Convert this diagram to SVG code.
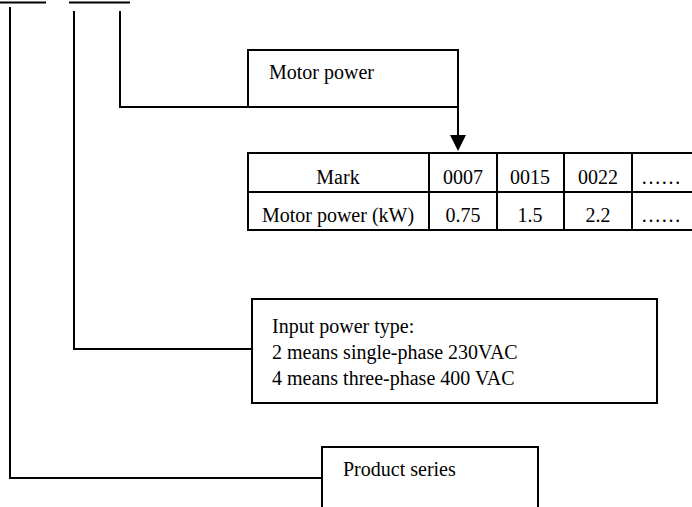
<svg xmlns="http://www.w3.org/2000/svg" width="692" height="507" viewBox="0 0 692 507">
<style>
.ln{stroke:#000;stroke-width:2;fill:none}
.bx{stroke:#000;stroke-width:2;fill:#fff}
text{font-family:"Liberation Serif","Times New Roman",serif;font-size:20px;fill:#000}
.c{text-anchor:middle}
</style>
<rect width="692" height="507" fill="#fff"/>
<g id="connectors">
<line class="ln" x1="0" y1="2.5" x2="46" y2="2.5"/>
<line class="ln" x1="69" y1="2.5" x2="130" y2="2.5"/>
<polyline class="ln" points="10,7 10,478 322,478"/>
<polyline class="ln" points="74,11 74,349 252,349"/>
<polyline class="ln" points="120,11 120,107 248,107"/>
<line class="ln" x1="458" y1="107" x2="458" y2="137"/>
<polygon points="450,135 466,135 458,151" fill="#000"/>
</g>
<g id="motor-power">
<rect class="bx" x="248" y="50" width="210" height="57"/>
<text x="269" y="79">Motor power</text>
</g>
<g id="table">
<line class="ln" x1="248" y1="153" x2="692" y2="153"/>
<line class="ln" x1="248" y1="192" x2="692" y2="192"/>
<line class="ln" x1="248" y1="230" x2="692" y2="230"/>
<line class="ln" x1="248" y1="152" x2="248" y2="231"/>
<line class="ln" x1="429" y1="152" x2="429" y2="231"/>
<line class="ln" x1="497" y1="152" x2="497" y2="231"/>
<line class="ln" x1="564" y1="152" x2="564" y2="231"/>
<line class="ln" x1="632" y1="152" x2="632" y2="231"/>
<text class="c" x="338" y="184">Mark</text>
<text class="c" x="463" y="184">0007</text>
<text class="c" x="530" y="184">0015</text>
<text class="c" x="598" y="184">0022</text>
<text class="c" x="661" y="184">……</text>
<text class="c" x="338" y="222">Motor power (kW)</text>
<text class="c" x="463" y="222">0.75</text>
<text class="c" x="530" y="222">1.5</text>
<text class="c" x="598" y="222">2.2</text>
<text class="c" x="661" y="222">……</text>
</g>
<g id="input-power">
<rect class="bx" x="252" y="299" width="405" height="104"/>
<text x="272" y="333">Input power type:</text>
<text x="272" y="359">2 means single-phase 230VAC</text>
<text x="272" y="385">4 means three-phase 400 VAC</text>
</g>
<g id="product-series">
<rect class="bx" x="322" y="447" width="216" height="80"/>
<text x="343" y="476">Product series</text>
</g>
</svg>
